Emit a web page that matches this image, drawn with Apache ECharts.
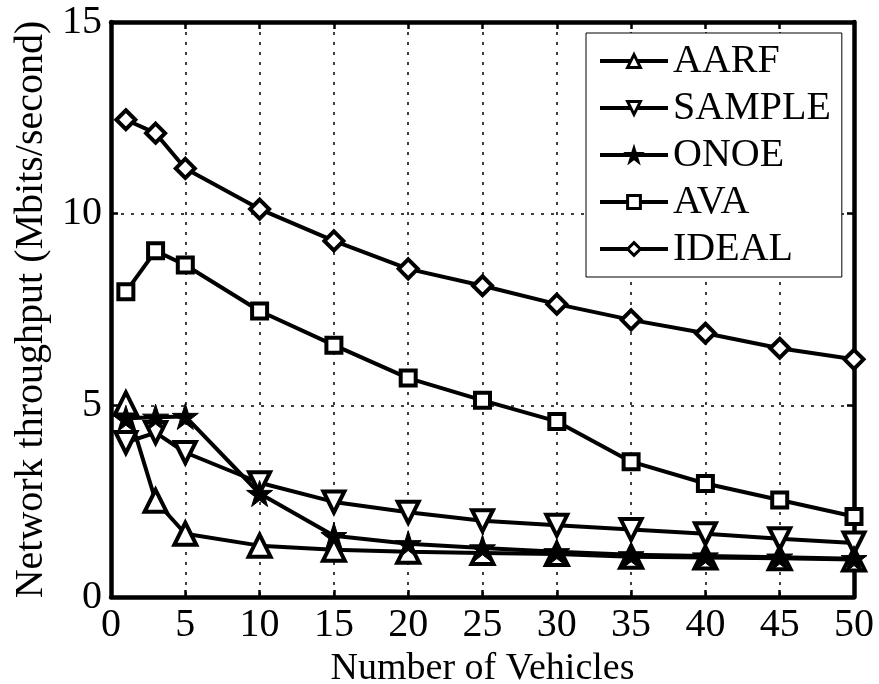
<!DOCTYPE html>
<html>
<head>
<meta charset="utf-8">
<script src="https://cdn.jsdelivr.net/npm/echarts@6/dist/echarts.min.js"></script>
<style>
html,body{margin:0;padding:0;background:#fff;}
#chart{width:879px;height:684px;}
</style>
</head>
<body>
<div id="chart"></div>
<script>
var vehicles = [1, 3, 5, 10, 15, 20, 25, 30, 35, 40, 45, 50];
var aarf   = [5.05, 2.51, 1.65, 1.34, 1.23, 1.18, 1.15, 1.12, 1.05, 1.03, 1.01, 0.98];
var sample = [4.03, 4.29, 3.77, 2.98, 2.48, 2.21, 1.99, 1.87, 1.76, 1.65, 1.52, 1.41];
var onoe   = [4.66, 4.69, 4.71, 2.70, 1.60, 1.39, 1.28, 1.18, 1.10, 1.07, 1.04, 1.00];
var ava    = [7.96, 9.03, 8.66, 7.46, 6.57, 5.71, 5.13, 4.58, 3.53, 2.96, 2.53, 2.10];
var ideal  = [12.45, 12.10, 11.18, 10.12, 9.29, 8.56, 8.12, 7.64, 7.23, 6.88, 6.49, 6.20];
var seriesNames = ['AARF', 'SAMPLE', 'ONOE', 'AVA', 'IDEAL'];

function pairs(ys) { return vehicles.map(function (x, i) { return [x, ys[i]]; }); }

var FONT = '"Liberation Serif", "DejaVu Serif", serif';
var STAR = 'path://M50,0 L61.2,34.5 L97.6,34.5 L68.2,55.9 L79.4,90.5 L50,69.1 L20.6,90.5 L31.8,55.9 L2.4,34.5 L38.8,34.5 Z';
var TRI_DOWN = 'path://M0,0 L100,0 L50,86 Z';

function mkSeries(name, ys, symbol, size, filled) {
  return {
    name: name, type: 'line', data: pairs(ys),
    symbol: symbol, symbolSize: size, showSymbol: true,
    lineStyle: { color: '#000', width: 4 },
    itemStyle: { color: filled ? '#000' : '#fff', borderColor: '#000', borderWidth: filled ? 1 : 4 },
    emphasis: { disabled: true }, animation: false
  };
}

var chart = echarts.init(document.getElementById('chart'), null, { renderer: 'canvas' });
var axisLine = { show: true, onZero: false, lineStyle: { color: '#000', width: 4.5 } };
var tick = { show: true, inside: true, length: 7, lineStyle: { color: '#000', width: 2.5 } };
var split = { show: true, lineStyle: { color: '#000', width: 1.5, type: [3, 7] } };

chart.setOption({
  backgroundColor: '#fff',
  animation: false,
  grid: { left: 111, right: 25, top: 22, bottom: 87, containLabel: false, outerBoundsMode: 'none' },
  xAxis: [{
    type: 'value', min: 0, max: 50, interval: 5, position: 'bottom',
    name: 'Number of Vehicles', nameLocation: 'middle', nameGap: 46,
    nameTextStyle: { fontFamily: FONT, fontSize: 38, color: '#000' },
    axisLine: axisLine, axisTick: tick, splitLine: split,
    axisLabel: { fontFamily: FONT, fontSize: 40, color: '#000', margin: 8 }
  }, {
    type: 'value', min: 0, max: 50, interval: 5, position: 'top',
    axisLine: axisLine, axisTick: tick, splitLine: { show: false }, axisLabel: { show: false }
  }],
  yAxis: [{
    type: 'value', min: 0, max: 15, interval: 5, position: 'left',
    name: 'Network throughput (Mbits/second)', nameLocation: 'middle', nameGap: 58,
    nameTextStyle: { fontFamily: FONT, fontSize: 40, color: '#000' },
    axisLine: axisLine, axisTick: tick, splitLine: split,
    axisLabel: { fontFamily: FONT, fontSize: 40, color: '#000', margin: 9 }
  }, {
    type: 'value', min: 0, max: 15, interval: 5, position: 'right',
    axisLine: axisLine, axisTick: tick, splitLine: { show: false }, axisLabel: { show: false }
  }],
  legend: {
    orient: 'vertical', left: 586, top: 33,
    data: seriesNames,
    backgroundColor: '#fff', borderColor: '#000', borderWidth: 1,
    padding: [8, 11, 8, 12],
    itemWidth: 68, itemHeight: 16, itemGap: 7,
    lineStyle: { width: 4, color: '#000' },
    itemStyle: { borderWidth: 3, borderColor: '#000' },
    textStyle: { fontFamily: FONT, fontSize: 40, color: '#000' }
  },
  series: [
    mkSeries('AARF', aarf, 'triangle', 22, false),
    mkSeries('SAMPLE', sample, TRI_DOWN, 21, false),
    mkSeries('ONOE', onoe, STAR, 26, true),
    mkSeries('AVA', ava, 'rect', 15, false),
    mkSeries('IDEAL', ideal, 'diamond', 19, false)
  ]
});
</script>
</body>
</html>
